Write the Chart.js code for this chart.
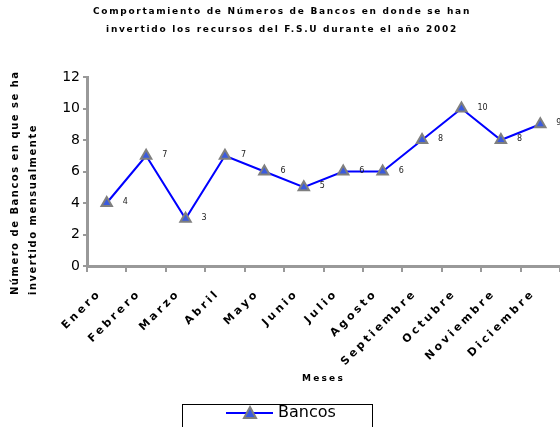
<!DOCTYPE html>
<html>
<head>
<meta charset="utf-8">
<script src="https://cdn.jsdelivr.net/npm/chart.js@4.4.1/dist/chart.umd.min.js"></script>
<style>
  html, body { margin: 0; padding: 0; background: #fff; }
  #wrap { width: 560px; height: 427px; }
</style>
</head>
<body>
<div id="wrap"><canvas id="grafico" width="560" height="427"></canvas></div>
<script>
// Datos del gráfico
const meses = ['Enero', 'Febrero', 'Marzo', 'Abril', 'Mayo', 'Junio', 'Julio', 'Agosto',
               'Septiembre', 'Octubre', 'Noviembre', 'Diciembre'];
const bancos = [4, 7, 3, 7, 6, 5, 6, 6, 8, 10, 8, 9];
const ticksY = [0, 2, 4, 6, 8, 10, 12];

const titulo = ['Comportamiento de Números de Bancos en donde se han',
                'invertido los recursos del F.S.U durante el año 2002'];
const tituloY = ['Número de Bancos en que se ha', 'invertido mensualmente'];
const tituloX = 'Meses';
const nombreSerie = 'Bancos';

const AZUL = '#0000ff';
const GRIS = '#999999';
const FUENTE = "'DejaVu Sans', sans-serif";

// Textos, leyenda y etiquetas de datos
const textosPlugin = {
    id: 'textos',
    beforeDraw(chart) {
        // ticks del eje Y sin espaciado
        chart.ctx.letterSpacing = '0px';
    },
    afterDatasetsDraw(chart) {
        // las etiquetas del eje X (z: 1) se dibujan despues, con espaciado
        chart.ctx.letterSpacing = '3px';
    },
    afterDraw(chart) {
        const ctx = chart.ctx;
        const area = chart.chartArea;
        ctx.save();
        ctx.fillStyle = '#000';

        // Titulo
        ctx.letterSpacing = '1.7px';
        ctx.font = 'bold 9px ' + FUENTE;
        ctx.textAlign = 'center';
        ctx.textBaseline = 'middle';
        ctx.fillText(titulo[0], 282, 12);
        ctx.fillText(titulo[1], 282, 30);

        // Titulo eje X
        ctx.letterSpacing = '2.2px';
        ctx.fillText(tituloX, (area.left + area.right) / 2, 379);

        // Titulo eje Y
        ctx.letterSpacing = '1.5px';
        ctx.font = 'bold 10px ' + FUENTE;
        ctx.textAlign = 'left';
        tituloY.forEach((linea, i) => {
            ctx.save();
            ctx.translate(15 + i * 18, 295);
            ctx.rotate(-Math.PI / 2);
            ctx.fillText(linea, 0, 0);
            ctx.restore();
        });

        // Etiquetas de datos
        ctx.letterSpacing = '0px';
        ctx.font = '8px ' + FUENTE;
        ctx.fillStyle = '#222';
        const meta = chart.getDatasetMeta(0);
        meta.data.forEach((p, i) => {
            ctx.fillText(String(bancos[i]), p.x + 16, p.y - 1);
        });

        // Leyenda
        ctx.strokeStyle = '#000';
        ctx.lineWidth = 1;
        ctx.strokeRect(182.5, 404.5, 190, 30);
        ctx.strokeStyle = AZUL;
        ctx.lineWidth = 2;
        ctx.beginPath();
        ctx.moveTo(226, 413);
        ctx.lineTo(273, 413);
        ctx.stroke();
        ctx.beginPath();
        ctx.moveTo(250, 407);
        ctx.lineTo(256, 418);
        ctx.lineTo(244, 418);
        ctx.closePath();
        ctx.fillStyle = '#3a5be0';
        ctx.fill();
        ctx.strokeStyle = '#7f7f7f';
        ctx.stroke();
        ctx.fillStyle = '#000';
        ctx.font = '16px ' + FUENTE;
        ctx.textBaseline = 'middle';
        ctx.fillText(nombreSerie, 278, 413);

        ctx.restore();
        ctx.letterSpacing = '0px';
    }
};

Chart.defaults.font.family = FUENTE;

new Chart(document.getElementById('grafico').getContext('2d'), {
    type: 'line',
    data: {
        labels: meses,
        datasets: [{
            label: nombreSerie,
            data: bancos,
            borderColor: AZUL,
            borderWidth: 2,
            backgroundColor: '#3a5be0',
            pointStyle: 'triangle',
            pointRadius: 6,
            pointBorderColor: '#7f7f7f',
            pointBorderWidth: 2,
            pointBackgroundColor: '#3a5be0',
            tension: 0,
            clip: false
        }]
    },
    options: {
        responsive: false,
        animation: false,
        layout: { autoPadding: false, padding: { top: 77, left: 0, right: 0, bottom: 0 } },
        plugins: {
            legend: { display: false },
            title: { display: false },
            tooltip: { enabled: false }
        },
        scales: {
            x: {
                offset: true,
                grid: { drawOnChartArea: false, offset: true, tickLength: 6, color: GRIS, lineWidth: 2 },
                border: { color: GRIS, width: 3 },
                ticks: {
                    autoSkip: false,
                    minRotation: 45,
                    maxRotation: 45,
                    padding: 15,
                    labelOffset: -7,
                    z: 1,
                    color: '#000',
                    font: { size: 11, weight: 'bold' }
                },
                afterFit: function(s) {
                    s.height = 161;
                    s.paddingLeft = 0;
                    s.paddingRight = 0;
                }
            },
            y: {
                min: 0,
                max: 12,
                afterBuildTicks: function(s) {
                    s.ticks = ticksY.map(v => ({ value: v }));
                },
                grid: { drawOnChartArea: false, tickLength: 4, color: GRIS, lineWidth: 2 },
                border: { color: GRIS, width: 3 },
                ticks: { color: '#000', padding: 3, font: { size: 14 } },
                afterFit: function(s) {
                    s.width = 87;
                }
            }
        }
    },
    plugins: [textosPlugin]
});
</script>
</body>
</html>
